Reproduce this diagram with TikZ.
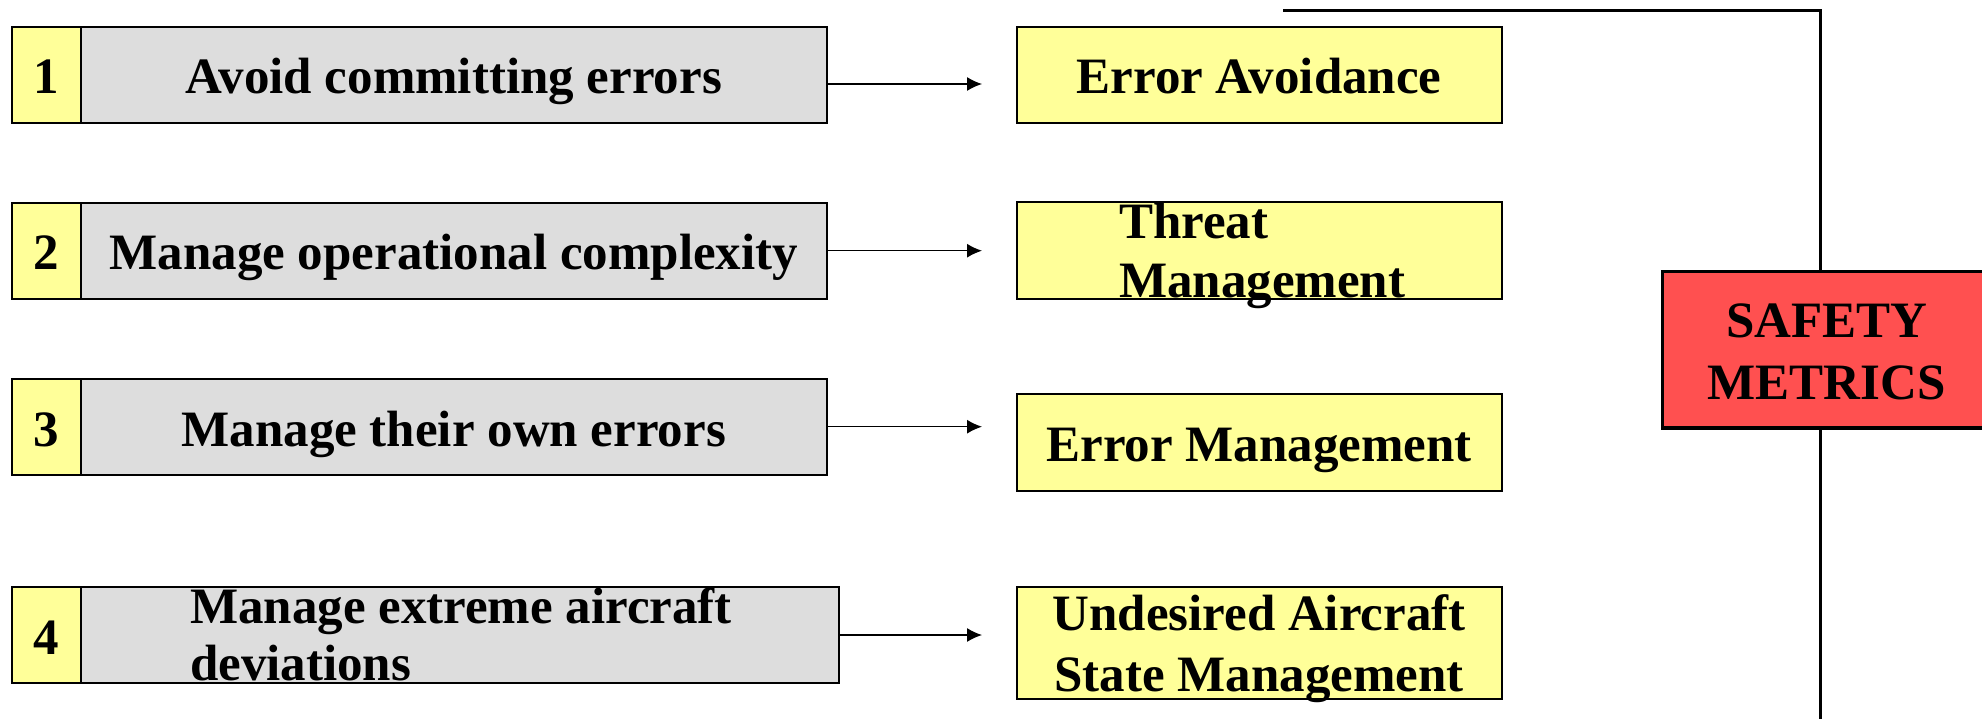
\documentclass[tikz,border=0pt]{standalone}
\usepackage{fontspec}
\setmainfont{Liberation Serif}
\usetikzlibrary{arrows.meta}
\definecolor{padyellow}{HTML}{FFFF99}
\definecolor{padgrey}{HTML}{DDDDDD}
\definecolor{metricred}{HTML}{FF5050}
\begin{document}
\begin{tikzpicture}[x=0.5pt,y=-0.5pt,
  boxtext/.style={font=\fontsize{25.5}{29.5}\selectfont\bfseries},
  box/.style={draw=black, line width=1pt, inner sep=0pt, outer sep=0pt,
    boxtext, text height=19pt, text depth=0pt},
  numcell/.style={box, fill=padyellow, minimum width=34.75pt, minimum height=48.15pt},
  taskbox/.style={box, fill=padgrey, minimum width=372.75pt, minimum height=48.15pt},
  goalbox/.style={box, fill=padyellow, minimum width=242.6pt, minimum height=48.35pt},
  metricbox/.style={draw=black, line width=1.6pt, fill=metricred, inner sep=0pt,
    outer sep=0pt, minimum width=164.3pt, minimum height=78.15pt},
  freetext/.style={boxtext, inner sep=0pt, outer sep=0pt},
  arr/.style={line width=0.65pt, -{Latex[length=7.5pt,width=7pt]}, shorten >=17.25pt},
  bus/.style={line width=1.4pt}
]
\useasboundingbox (0,0) rectangle (1982,718);

% numbered cells
\node[numcell] (n1) at (46.25,74.9) {1};
\node[numcell] (n2) at (46.25,250.9) {2};
\node[numcell] (n3) at (46.25,427.2) {3};
\node[numcell, minimum height=48pt] (n4) at (46.25,635) {4};

% task boxes
\node[taskbox] (g1) at (453.75,74.9) {Avoid committing errors};
\node[taskbox] (g2) at (453.75,250.9) {Manage operational complexity};
\node[taskbox] (g3) at (453.75,427.2) {Manage their own errors};
\node[taskbox, minimum width=378.8pt, minimum height=48pt] (g4) at (459.8,635) {};
% two-line labels: the base anchor sits on the last line
\node[freetext, anchor=base west, align=left] (g4text) at (190,680.5)
  {Manage extreme aircraft\\[-1pt]deviations};

% goal boxes
\node[goalbox, minimum height=48.15pt] (y1) at (1259.1,74.9) {Error Avoidance};
\node[goalbox] (y2) at (1259.1,250.7) {};
\node[freetext, anchor=base west, align=left] (y2text) at (1119,297)
  {Threat\\Management};
\node[goalbox] (y3) at (1259.1,442.7) {Error Management};
\node[goalbox, minimum height=56pt] (y4) at (1259.1,643) {};
\node[freetext, anchor=base, align=center] (y4text) at (1259.1,691)
  {Undesired Aircraft\\[1pt]State Management};

% arrows from tasks to goals
\draw[arr] (g1.east |- 0,84) -- (y1.west |- 0,84);
\draw[arr] (g2.east |- 0,250.7) -- (y2.west |- 0,250.7);
\draw[arr] (g3.east |- 0,426.7) -- (y3.west |- 0,426.7);
\draw[arr] (g4.east |- 0,635) -- (y4.west |- 0,635);

% safety metrics box and its bus line
\node[metricbox] (sm) at (1826.7,349.85) {};
\node[freetext, anchor=base, align=center] (smtext) at (1826.7,399)
  {SAFETY\\[1.5pt]METRICS};
\coordinate (busstart) at (1283,10.7);
\coordinate (buscorner) at (1820.7,10.7);
\coordinate (busend) at (1820.7,720);
\draw[bus] (busstart) -- (buscorner) -- (buscorner |- sm.north);
\draw[bus] (sm.south -| buscorner) -- (busend);
\end{tikzpicture}
\end{document}
